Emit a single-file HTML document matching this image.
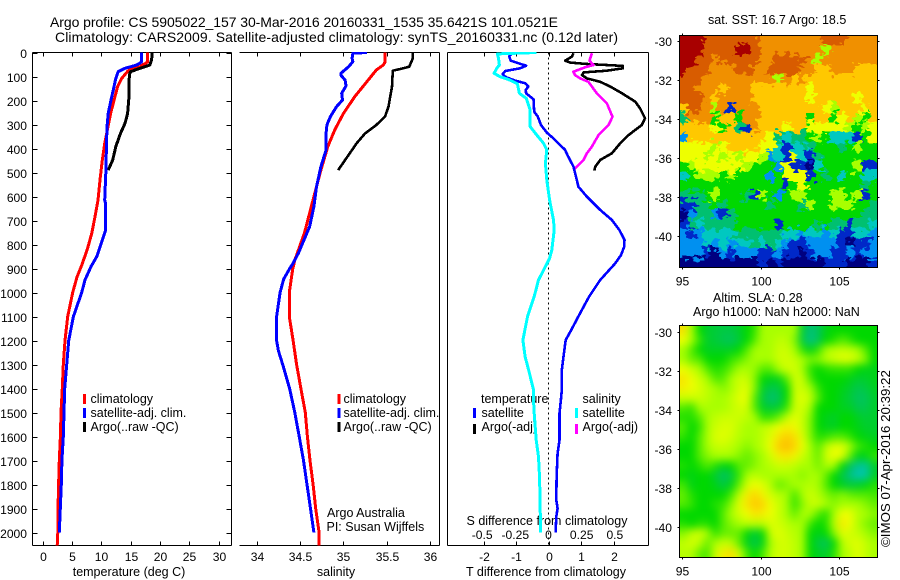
<!DOCTYPE html>
<html><head><meta charset="utf-8"><title>Argo profile</title>
<style>
html,body{margin:0;padding:0;background:#fff;width:900px;height:580px;overflow:hidden}
svg{display:block}
text{font-family:"Liberation Sans",sans-serif;font-size:12.5px;fill:#000}
.t{font-size:14px}
.tick{font-size:12.1px}
.stamp{font-size:13.3px}
</style></head>
<body>
<svg id="chart" xmlns="http://www.w3.org/2000/svg" width="900" height="580" viewBox="0 0 900 580">
<defs>
<clipPath id="clipT"><rect x="32" y="52" width="199" height="494"/></clipPath>
<clipPath id="clipS"><rect x="239" y="52" width="200" height="494"/></clipPath>
<clipPath id="clipD"><rect x="447" y="52" width="201" height="494"/></clipPath>
<clipPath id="clipM1"><rect x="679.5" y="35.5" width="198" height="232"/></clipPath>
<clipPath id="clipM2"><rect x="679.5" y="325.5" width="198" height="232"/></clipPath>
<filter id="soft" x="-10%" y="-10%" width="120%" height="120%" color-interpolation-filters="sRGB"><feGaussianBlur stdDeviation="4.2"/></filter>
<filter id="rough" x="-10%" y="-10%" width="120%" height="120%" color-interpolation-filters="sRGB">
<feTurbulence type="fractalNoise" baseFrequency="0.14 0.22" numOctaves="2" seed="7" result="n"/>
<feDisplacementMap in="SourceGraphic" in2="n" scale="16" xChannelSelector="R" yChannelSelector="G"/>
</filter>
</defs>
<text class="t" x="50" y="27" textLength="508" lengthAdjust="spacing">Argo profile: CS 5905022_157 30-Mar-2016 20160331_1535 35.6421S 101.0521E</text>
<text class="t" x="55" y="42" textLength="563" lengthAdjust="spacing">Climatology: CARS2009. Satellite-adjusted climatology: synTS_20160331.nc (0.12d later)</text>

<text x="129" y="576" text-anchor="middle">temperature (deg C)</text>
<text x="336" y="576" text-anchor="middle">salinity</text>
<text x="546" y="576" text-anchor="middle">T difference from climatology</text>
<text x="547" y="525" text-anchor="middle">S difference from climatology</text>

<g id="temp-legend">
<rect x="83" y="394" width="3" height="10" fill="#f00"/>
<text x="90.5" y="403">climatology</text>
<rect x="83" y="408" width="3" height="10" fill="#00f"/>
<text x="90.5" y="417">satellite-adj. clim.</text>
<rect x="83" y="422" width="3" height="10" fill="#000"/>
<text x="90.5" y="431">Argo(..raw -QC)</text>
</g>
<g id="sal-legend">
<rect x="337.5" y="394" width="3" height="10" fill="#f00"/>
<text x="343.5" y="403">climatology</text>
<rect x="337.5" y="408" width="3" height="10" fill="#00f"/>
<text x="343.5" y="417">satellite-adj. clim.</text>
<rect x="337.5" y="422" width="3" height="10" fill="#000"/>
<text x="343.5" y="431">Argo(..raw -QC)</text>
</g>
<text x="327" y="517">Argo Australia</text>
<text x="326.5" y="531">PI: Susan Wijffels</text>

<g id="diff-legend">
<text x="481" y="403">temperature</text>
<rect x="473" y="408" width="3" height="10" fill="#00f"/>
<text x="481.5" y="417">satellite</text>
<rect x="473" y="424" width="3" height="10" fill="#000"/>
<text x="481.5" y="431">Argo(-adj)</text>
<text x="582.5" y="403">salinity</text>
<rect x="575" y="408" width="3" height="10" fill="#0ff"/>
<text x="582.5" y="417">satellite</text>
<rect x="575" y="424" width="3" height="10" fill="#f0f"/>
<text x="582.5" y="431">Argo(-adj)</text>
</g>

<text x="708" y="24">sat. SST: 16.7 Argo: 18.5</text>
<text x="713" y="302">Altim. SLA: 0.28</text>
<text x="693" y="316">Argo h1000: NaN h2000: NaN</text>
<text class="stamp" transform="translate(890,547) rotate(-90)">©IMOS 07-Apr-2016 20:39:22</text>
</svg>
<script>
// Tick values
const depthTicks = [0,100,200,300,400,500,600,700,800,900,1000,1100,1200,1300,1400,1500,1600,1700,1800,1900,2000];
const tempTicks = [0,5,10,15,20,25,30];
const salTicks = [34,34.5,35,35.5,36];
const dTTicks = [-2,-1,0,1,2];
const dSTicks = [-0.5,-0.25,0,0.25,0.5];
const lonTicks = [95,100,105];
const latTicks = [-30,-32,-34,-36,-38,-40];

// Temperature panel
const tempClimDepth = [0,40,59,76,108,142,198,254,330,379,448,531,615,684,753,823,892,934,1000,1100,1200,1300,1400,1500,1600,1700,1800,1900,2000,2055];
const tempClimValue = [17.9,17.9,16.6,14.6,13.5,12.8,12.2,11.6,11.0,10.6,10.2,9.8,9.46,8.95,8.4,7.6,6.6,5.9,5.14,4.29,3.84,3.55,3.38,3.15,3.05,2.87,2.75,2.65,2.6,2.5];
const tempSatDepth = [0,40,52,66,80,108,156,198,254,309,379,490,615,630,740,781,851,892,948,1000,1100,1200,1300,1400,1500,1600,1700,1800,1900,2000];
const tempSatValue = [16.85,16.85,16.05,14.06,12.9,12.5,12.07,11.68,11.2,11,10.9,10.8,10.6,10.77,10.77,10.2,9.23,8.27,7.24,6.68,5.26,4.46,4.12,3.78,3.66,3.55,3.3,3.2,3.03,2.87];
const tempArgoDepth = [0,31,52,66,80,94,184,254,295,337,392,448,490];
const tempArgoValue = [18.7,18.6,18.3,16.6,15.0,14.8,14.74,14.5,14.06,13.3,12.5,11.96,11.2];

// Salinity panel
const salClimDepth = [0,40,52,73,122,184,254,323,392,490,559,642,753,865,903,1000,1100,1200,1300,1400,1500,1600,1700,1800,1900,2000,2055];
const salClimValue = [35.48,35.48,35.46,35.38,35.27,35.13,35.0,34.9,34.82,34.74,34.69,34.63,34.55,34.44,34.415,34.376,34.376,34.42,34.46,34.51,34.56,34.585,34.615,34.65,34.68,34.72,34.72];
const salSatDepth = [0,3,24,38,59,87,94,115,139,170,198,226,267,302,337,406,476,559,642,726,837,878,903,945,1000,1100,1200,1243,1300,1400,1500,1600,1700,1800,1900,2000];
const salSatValue = [35.27,35.11,35.1,35.11,35.06,34.97,34.97,35.02,35.03,34.98,34.99,34.92,34.85,34.81,34.8,34.8,34.74,34.69,34.66,34.61,34.48,34.42,34.376,34.31,34.27,34.23,34.23,34.25,34.3,34.38,34.44,34.49,34.54,34.58,34.62,34.66];
const salArgoDepth = [0,24,59,69,76,142,184,226,267,302,337,379,406,448,490];
const salArgoValue = [35.8,35.8,35.76,35.65,35.57,35.56,35.54,35.52,35.48,35.38,35.25,35.15,35.1,35.02,34.94];

// Difference panel
const dTSatDepth = [3,17,34,45,55,66,77,90,103,117,128,142,156,170,184,195,247,267,302,334,358,406,427,476,531,559,601,656,698,740,781,809,844,879,948,1017,1087,1156,1198,1267,1323,1406,1448,1503,1615,1670,1767,1865,1899,1934,2000];
const dTSatValue = [-1.13,-1.21,-1.16,-0.92,-0.69,-0.87,-1.33,-1.41,-1.31,-1.03,-0.72,-0.62,-0.70,-0.69,-0.56,-0.46,-0.44,-0.33,-0.23,-0.05,0.15,0.51,0.58,0.77,0.87,0.92,1.18,1.59,1.95,2.18,2.34,2.33,2.23,2.05,1.59,1.25,0.97,0.70,0.53,0.46,0.41,0.41,0.38,0.34,0.34,0.28,0.25,0.24,0.28,0.24,0.22];
const dSSatDepth = [0,6,24,52,66,87,101,115,131,170,191,240,309,344,378,406,462,531,615,698,740,823,858,948,1017,1101,1198,1267,1337,1406,1448,1503,1615,1684,1767,1865,2000];
const dSSatValue = [-0.09,-0.385,-0.377,-0.37,-0.39,-0.41,-0.364,-0.29,-0.234,-0.219,-0.168,-0.138,-0.138,-0.088,-0.038,-0.013,-0.023,-0.013,0.008,0.038,0.043,0.025,0.008,-0.075,-0.108,-0.158,-0.193,-0.176,-0.143,-0.113,-0.113,-0.108,-0.093,-0.075,-0.068,-0.063,-0.06];
const dTArgoDepth = [3,17,34,42,48,52,56,66,76,83,94,108,122,142,170,205,233,274,302,344,378,420,448,476,492];
const dTArgoValue = [0.77,0.72,0.51,0.67,1.18,1.79,2.29,2.29,1.79,1.08,1.03,1.18,1.59,1.90,2.26,2.67,2.82,2.97,2.87,2.46,2.21,1.95,1.59,1.44,1.41];
const dSArgoDepth = [3,34,52,61,80,94,108,122,170,212,268,302,344,392,420,448,482,492];
const dSArgoValue = [0.327,0.309,0.339,0.28,0.188,0.2,0.239,0.301,0.364,0.44,0.482,0.452,0.377,0.327,0.289,0.264,0.201,0.188];

// SST colour-index grid (rows north to south, columns west to east)
const sstGrid = [
[11,11,11,10,10,10,10,10,10,10,9,9,9,9,9,9,9,9,10,10,10,9,9,9,9],
[11,11,11,10,10,10,10,11,11,10,9,9,9,9,9,9,9,9,6,9,9,9,9,9,9],
[11,11,10,10,9,10,10,10,10,10,9,9,10,10,10,10,9,6,9,9,9,9,9,9,9],
[11,10,10,10,9,9,9,10,10,9,9,10,10,10,10,9,9,8,8,9,9,9,8,8,8],
[10,10,10,9,9,9,9,9,9,9,9,9,6,9,8,9,8,8,8,8,8,8,8,8,8],
[10,10,9,9,9,8,9,9,9,8,8,8,8,8,8,8,7,8,8,8,8,8,8,8,8],
[10,10,10,9,8,9,9,9,9,8,8,8,8,8,8,8,7,8,8,8,8,8,7,8,8],
[8,10,10,9,6,9,1,9,9,9,8,8,8,8,8,8,8,8,7,6,8,8,8,7,8],
[4,9,9,9,5,8,8,5,9,9,8,8,8,8,8,8,5,8,8,5,7,8,6,5,8],
[8,8,8,8,7,5,8,4,1,9,8,8,8,7,8,8,7,7,7,7,7,6,5,6,7],
[2,8,8,8,8,8,8,8,8,8,8,7,4,3,4,4,5,6,5,3,3,3,1,5,7],
[7,7,7,7,6,7,8,8,8,8,7,7,3,1,3,3,4,5,5,5,4,5,6,5,5],
[7,7,7,6,7,6,7,6,7,7,6,2,3,1,7,3,1,4,5,5,5,5,5,5,5],
[5,6,7,7,7,7,7,7,6,5,5,5,2,7,1,1,0,3,5,5,5,5,6,1,1],
[3,5,6,6,6,5,6,5,5,5,5,2,5,7,7,7,1,5,4,5,3,5,5,3,3],
[5,5,5,5,5,5,5,5,5,5,5,5,5,1,5,7,5,5,5,5,5,5,5,4,5],
[4,4,4,5,6,5,5,5,4,1,6,5,2,5,6,6,5,5,5,6,6,5,6,1,5],
[1,1,4,4,5,4,5,5,5,5,5,4,5,5,5,4,6,5,5,6,6,6,5,5,4],
[0,2,4,4,2,1,4,5,5,5,5,5,5,5,5,5,5,5,5,5,5,5,5,4,4],
[1,4,3,4,4,4,4,5,5,5,5,5,1,5,5,5,5,4,5,4,4,1,4,4,3],
[2,1,2,3,3,3,3,4,4,4,4,4,4,3,3,2,3,3,2,3,1,1,3,3,2],
[2,2,2,3,2,3,2,3,3,4,3,4,3,2,1,1,2,2,2,2,1,0,1,1,2],
[2,2,2,1,0,2,1,2,2,2,1,1,2,1,1,0,1,2,2,1,1,2,1,2,2],
[0,0,0,0,0,0,0,0,0,0,1,0,1,0,0,0,0,0,1,1,1,0,0,0,1]
];
// SLA colour-index grid
const slaGrid = [
[7.6,6,5,4.6,4.5,4.4,4.4,4.6,5,5.3,6,6,6,6,6,4.6,3.9,4.2,4.8,5,5,5,5,5,5],
[7,6,5.3,4.6,4.5,4.3,4.2,4.5,5,5.5,6,6,6.3,6.3,5.8,4.5,3.7,4.2,5,5.2,5.5,5.3,5,5,5],
[6,5.5,5,4.7,4.7,4.7,4.7,5,5.5,6,6,6,6.5,6.5,6,5.3,4.8,5.3,6,6.3,6.4,6.3,6,5.5,5],
[6,5.6,5.5,5,5,5,5.3,5.5,5.8,6,6,6,6.5,6.6,6.4,6,5.7,5.8,6.2,6.5,6.8,6.8,6.4,5.8,5],
[7,6.5,6,5.5,5.2,5.3,5.6,6,6,5.9,5.5,5.5,6,6.5,6.6,6,5.3,5,5.2,5.3,5.3,5.3,5,4.8,4.8],
[7.5,7,6.5,6,5.5,5.5,6,6.5,6.5,5.8,5,4.8,4.8,5.5,6.5,6.5,5.5,5,5,5,5,4.8,4.6,4.6,4.8],
[7.3,7,6.7,6.3,6,5.8,6,6.6,6.8,5.8,4.7,4.3,4.4,5,6.5,6.5,6,5.3,5,5,4.8,4.6,4.3,4.4,4.7],
[6.5,6.5,6.5,6.3,6,6,6.3,6.8,6.9,5.5,4.5,4,4.2,5,6.5,6.8,6.4,5.5,5,5,4.7,4.5,4.2,4.2,4.6],
[5.5,5.3,6,6,6,6,6.3,6.6,6.6,5.5,4.7,4.5,4.6,5.3,6.5,6.6,6,5,5,5,4.7,4.7,4.3,4.3,4.6],
[5.2,5.2,5.5,6,6.3,6.5,6.5,6.5,6.3,6,5.3,5.3,5.6,6.3,6.8,6.5,5.8,5,4.8,4.6,5,5,4.7,4.5,4.6],
[5.5,5,5.3,6,6.5,6.7,6.7,6.3,6,6,6.3,6.5,7,7.3,7.1,6.5,5.8,5,4.8,4.7,5,5,4.8,4.6,4.6],
[5.3,5,5.5,6,6.7,6.8,6.6,6.2,6,6,6.3,6.8,7.5,7.9,7.6,6.8,5.8,5.2,5.3,5.5,5.5,5.3,5,4.8,4.7],
[5,5,5.5,6,6.4,6.5,6.3,6,5.8,6,6.3,7,7.9,8.2,7.8,7,6,5.5,6.2,6.8,6.8,6,5.4,5.2,5],
[5,5,5.5,5.8,6,6,6,5.8,5.6,5.8,6,6.6,7.3,7.5,7.2,6.5,6,5.6,6.5,7,6.8,5.6,4.8,4.8,5.3],
[5.2,5,5.2,5.5,5.2,4.8,5,5.5,5.6,5.8,6,6.2,6.5,6.5,6.3,6,6,5.7,6,6,5,4.2,3.6,3.4,4.6],
[5,4.8,5,5,4.6,4.1,4.4,5.3,6,6.3,6,6,6,6,6,5.8,6,6,5.6,5,4.4,3.8,3.2,3.3,4.6],
[5.4,4.8,5,5,4.8,4.4,4.8,5.6,6.6,7,6.8,6.2,5.6,5.8,6,6,6.2,6,5.5,5,4.7,4.5,4.6,4.8,5.2],
[5.6,5.2,5,5,5,5,5.4,6.3,7.3,7.8,7.2,6.6,6.2,6,5.4,6,6.5,6.2,5.8,5.6,5.8,5.6,5.5,5.5,5.4],
[5.5,5.3,5,5,5.2,5.3,5.8,6.8,7.5,8,7.8,7,6.5,6,5.3,5.8,6.4,6.5,6,5.8,6,6,6,5.8,5.6],
[5,5,5,5,5,5.5,6,6.6,7,7.5,7.3,7,6.5,6,5.6,6,6,5.5,5.2,6,7,7,6.2,6,5.8],
[5.2,5,5.2,5.2,5,5.5,5.8,6,6.3,6.3,6.3,6.7,6.6,6.3,6,6,5.4,5,5.2,6.2,7.4,7,6.2,5.8,5.6],
[5.8,6.3,6.6,6,5.3,5.6,5.6,5.6,5,4.5,5,6.5,6.8,6.5,6.2,6,5,4.8,5,5.8,6.8,6.6,6.4,6,5.8],
[6.3,6.6,6.3,5.6,6,6.4,6.3,5.6,4.8,4.3,4.8,6,6.6,6.6,6.3,6,5,4.4,4.2,5,6.2,6.6,6.8,6.4,6],
[6.2,6.2,5.6,5.4,6.5,7.3,7.6,6.6,5.4,5,5.4,6.2,6.6,6.6,6.3,6,5,4.7,4.6,5.2,6,6.3,6.8,6.4,6]
];

// Axis functions
const yDepth = d => 52.5 + 0.24 * d;
const xTemp = t => 42.5 + 5.867 * t;
const xSal = s => 256.7 + 86.7 * (s - 34);
const xDT = t => 548.5 + 32.5 * t;
const xDS = s => 548.5 + 132.7 * s;
const xLon = l => 682 + 15.72 * (l - 95);
const yLat = l => 41.3 + 19.47 * (-30 - l);

const svg = document.getElementById('chart');
const NS = 'http://www.w3.org/2000/svg';
function mk(tag, attrs, parent, txt) {
  const e = document.createElementNS(NS, tag);
  for (const k in attrs) e.setAttribute(k, attrs[k]);
  if (txt !== undefined) e.textContent = txt;
  (parent || svg).appendChild(e);
  return e;
}
function seg(x1, y1, x2, y2, name, parent) {
  const l = mk('line', {x1, y1, x2, y2, stroke: '#000', 'stroke-width': 1, 'shape-rendering': 'crispEdges'}, parent);
  
  
  return l;
}
function label(x, y, s, anchor, name) {
  const t = mk('text', {x, y, 'text-anchor': anchor, class: 'tick'}, svg, s);
  
  
}
function line(depths, values, xf, color, clip, name, w) {
  const pts = depths.map((d, i) => xf(values[i]).toFixed(1) + ',' + yDepth(d).toFixed(1)).join(' ');
  const p = mk('polyline', {points: pts, fill: 'none', stroke: color, 'stroke-width': w || 3, 'stroke-linejoin': 'round', 'shape-rendering': 'crispEdges', 'clip-path': 'url(#' + clip + ')'});
  
  
}
const T = 52.5, B = 545.5;

// Temperature frame
seg(32.5, T, 231.5, T, 'temperature-top-axis');
seg(32.5, B, 231.5, B, 'temperature-bottom-axis');
seg(32.5, T, 32.5, B, 'temperature-left-axis');
seg(231.5, T, 231.5, B, 'temperature-right-axis');
depthTicks.forEach(d => {
  const y = Math.round(yDepth(d)) + 0.5;
  seg(32.5, y, 37.5, y, 'depth-tick');
  seg(226.5, y, 231.5, y, 'depth-tick');
  label(27, y + 4.5, String(d), 'end', 'depth-tick-label');
});
tempTicks.forEach(t => {
  const x = Math.round(xTemp(t)) + 0.5;
  seg(x, T, x, T + 4, 'temperature-tick');
  seg(x, B - 4, x, B, 'temperature-tick');
  label(x, 561, String(t), 'middle', 'temperature-tick-label');
});
// Salinity frame
seg(239.5, T, 439.5, T, 'salinity-top-axis');
seg(239.5, B, 439.5, B, 'salinity-bottom-axis');
seg(439.5, T, 439.5, B, 'salinity-right-axis');
salTicks.forEach(s => {
  const x = Math.round(xSal(s)) + 0.5;
  seg(x, T, x, T + 4, 'salinity-tick');
  seg(x, B - 4, x, B, 'salinity-tick');
  label(x, 561, String(s), 'middle', 'salinity-tick-label');
});
// Difference frame
seg(447.5, T, 648.5, T, 'difference-top-axis');
seg(447.5, B, 648.5, B, 'difference-bottom-axis');
seg(447.5, T, 447.5, B, 'difference-left-axis');
seg(648.5, T, 648.5, B, 'difference-right-axis');
dTTicks.forEach(t => {
  const x = Math.round(xDT(t)) + 0.5;
  seg(x, T, x, T + 4, 't-difference-tick');
  seg(x, B - 4, x, B, 't-difference-tick');
  label(x, 561, String(t), 'middle', 't-difference-tick-label');
});
dSTicks.forEach(s => {
  label(xDS(s), 539, String(s), 'middle', 's-difference-tick-label');
});
const zero = mk('line', {x1: 548.5, y1: T, x2: 548.5, y2: B, stroke: '#000', 'stroke-width': 1, 'stroke-dasharray': '2 3', 'shape-rendering': 'crispEdges'});



// Profile lines
line(tempClimDepth, tempClimValue, xTemp, '#f00', 'clipT', 'temperature-climatology-line');
line(tempArgoDepth, tempArgoValue, xTemp, '#000', 'clipT', 'temperature-argo-line');
line(tempSatDepth, tempSatValue, xTemp, '#00f', 'clipT', 'temperature-satellite-line');
line(salClimDepth, salClimValue, xSal, '#f00', 'clipS', 'salinity-climatology-line');
line(salArgoDepth, salArgoValue, xSal, '#000', 'clipS', 'salinity-argo-line', 2.6);
line(salSatDepth, salSatValue, xSal, '#00f', 'clipS', 'salinity-satellite-line');
line(dTArgoDepth, dTArgoValue, xDT, '#000', 'clipD', 't-difference-argo-line', 2.6);
line(dSArgoDepth, dSArgoValue, xDS, '#f0f', 'clipD', 's-difference-argo-line', 2.6);
line(dTSatDepth, dTSatValue, xDT, '#00f', 'clipD', 't-difference-satellite-line', 2.6);
line(dSSatDepth, dSSatValue, xDS, '#0ff', 'clipD', 's-difference-satellite-line');

// Colour scale
const cmap = [[0,0,128],[0,40,200],[0,144,240],[0,200,192],[0,192,112],[0,216,0],[168,255,0],[238,255,0],[255,200,0],[240,144,0],[216,92,0],[168,0,0]];
function col(v) {
  const i = Math.max(0, Math.min(10, Math.floor(v)));
  const f = Math.max(0, Math.min(1, v - i));
  const c = cmap[i].map((a, k) => Math.round(a + (cmap[i + 1][k] - a) * f));
  return 'rgb(' + c.join(',') + ')';
}
function heat(grid, left, top, right, bottom, clip, name, filter) {
  const outer = mk('g', {'clip-path': 'url(#' + clip + ')'});
  
  
  const g = mk('g', {filter: 'url(#' + filter + ')'}, outer);
  const rows = grid.length, cols = grid[0].length;
  const cw = (right - left) / cols, ch = (bottom - top) / rows;
  const pad = 25;
  grid.forEach((row, r) => row.forEach((v, c) => {
    const x0 = left + c * cw - (c === 0 ? pad : 0);
    const y0 = top + r * ch - (r === 0 ? pad : 0);
    const x1 = left + (c + 1) * cw + (c === cols - 1 ? pad : 0);
    const y1 = top + (r + 1) * ch + (r === rows - 1 ? pad : 0);
    const cell = mk('rect', {x: x0.toFixed(2), y: y0.toFixed(2), width: (x1 - x0 + 0.5).toFixed(2), height: (y1 - y0 + 0.5).toFixed(2), fill: col(v), 'shape-rendering': 'crispEdges'}, g);
    
    
  }));
}
heat(sstGrid, 679.5, 35.5, 877.5, 267.5, 'clipM1', 'sst', 'rough');
heat(slaGrid, 679.5, 325.5, 877.5, 557.5, 'clipM2', 'sla', 'soft');

// Map frames, ticks and labels
function mapFrame(top, bottom, dy, name) {
  const f = mk('rect', {x: 679.5, y: top, width: 198, height: bottom - top, fill: 'none', stroke: '#000', 'stroke-width': 1, 'shape-rendering': 'crispEdges'});
  
  
  lonTicks.forEach(l => {
    const x = Math.round(xLon(l)) + 0.5;
    seg(x, top - 2, x, top, name + '-lon-tick');
    seg(x, bottom, x, bottom + 2, name + '-lon-tick');
    label(x, bottom + 18, String(l), 'middle', name + '-lon-label');
  });
  latTicks.forEach(l => {
    const y = Math.round(yLat(l) + dy) + 0.5;
    seg(677.5, y, 679.5, y, name + '-lat-tick');
    seg(877.5, y, 879.5, y, name + '-lat-tick');
    label(672, y + 4.5, String(l), 'end', name + '-lat-label');
  });
}
mapFrame(35.5, 267.5, 0, 'sst-map');
mapFrame(325.5, 557.5, 291, 'sla-map');
</script>
</body></html>
